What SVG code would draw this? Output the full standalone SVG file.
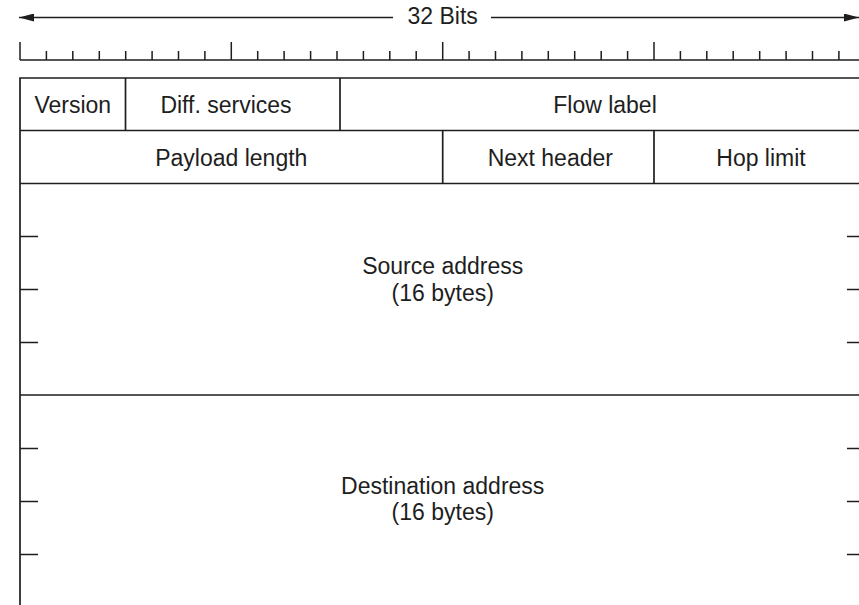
<svg xmlns="http://www.w3.org/2000/svg" width="859" height="605" viewBox="0 0 859 605">
<style>
  .ln { stroke: #1e1e1e; stroke-width: 1.7; fill: none; }
  .tk { stroke: #1e1e1e; stroke-width: 1.5; fill: none; }
  .t { font-family: "Liberation Sans", Arial, Helvetica, sans-serif; font-size: 23px; fill: #1e1e1e; text-anchor: middle; }
</style>
<defs>
  <marker id="ah" markerWidth="15" markerHeight="8" refX="15" refY="4" orient="auto-start-reverse" markerUnits="userSpaceOnUse">
    <path d="M0,0 L15,4 L0,8 Z" fill="#1e1e1e"/>
  </marker>
</defs>
<rect width="859" height="605" fill="#ffffff"/>

<g id="connectors">
  <line class="ln" x1="393" y1="17.5" x2="19" y2="17.5" marker-end="url(#ah)"/>
  <line class="ln" x1="491" y1="17.5" x2="859" y2="17.5" marker-end="url(#ah)"/>
</g>
<g id="title">
  <text class="t" x="442.7" y="24">32 Bits</text>
</g>

<g id="ruler">
  <line class="tk" x1="20" y1="60" x2="870" y2="60"/>
  <path class="tk" d="M20,42V60 M231.3,42V60 M442.7,42V60 M654,42V60
    M46.4,51V60 M72.8,51V60 M99.3,51V60 M125.7,51V60 M152.1,51V60 M178.5,51V60 M204.9,51V60
    M257.7,51V60 M284.1,51V60 M310.6,51V60 M337,51V60 M363.4,51V60 M389.8,51V60 M416.2,51V60
    M469.1,51V60 M495.5,51V60 M521.9,51V60 M548.3,51V60 M574.7,51V60 M601.2,51V60 M627.6,51V60
    M680.4,51V60 M706.8,51V60 M733.2,51V60 M759.7,51V60 M786.1,51V60 M812.5,51V60 M838.9,51V60"/>
</g>

<g id="frame">
  <path class="ln" d="M20,610V78H870 M20,130.5H870 M20,183.5H870 M20,395H870"/>
</g>

<g id="version">
  <line class="ln" x1="125.5" y1="78" x2="125.5" y2="130.5"/>
  <text class="t" x="72.8" y="113">Version</text>
</g>
<g id="diff-services">
  <line class="ln" x1="340" y1="78" x2="340" y2="130.5"/>
  <text class="t" x="226" y="113">Diff. services</text>
</g>
<g id="flow-label">
  <text class="t" x="605" y="113">Flow label</text>
</g>
<g id="payload-length">
  <line class="ln" x1="442.7" y1="130.5" x2="442.7" y2="183.5"/>
  <text class="t" x="231.3" y="166">Payload length</text>
</g>
<g id="next-header">
  <line class="ln" x1="654" y1="130.5" x2="654" y2="183.5"/>
  <text class="t" x="550.3" y="166">Next header</text>
</g>
<g id="hop-limit">
  <text class="t" x="761" y="166">Hop limit</text>
</g>
<g id="source-address">
  <path class="tk" d="M20,236.5H38 M20,289.5H38 M20,342.5H38 M847,236.5H870 M847,289.5H870 M847,342.5H870"/>
  <text class="t" x="442.7" y="274">Source address</text>
  <text class="t" x="442.7" y="300.5">(16 bytes)</text>
</g>
<g id="destination-address">
  <path class="tk" d="M20,448.5H38 M20,501.5H38 M20,554.5H38 M847,448.5H870 M847,501.5H870 M847,554.5H870"/>
  <text class="t" x="442.7" y="493.5">Destination address</text>
  <text class="t" x="442.7" y="520">(16 bytes)</text>
</g>
</svg>
